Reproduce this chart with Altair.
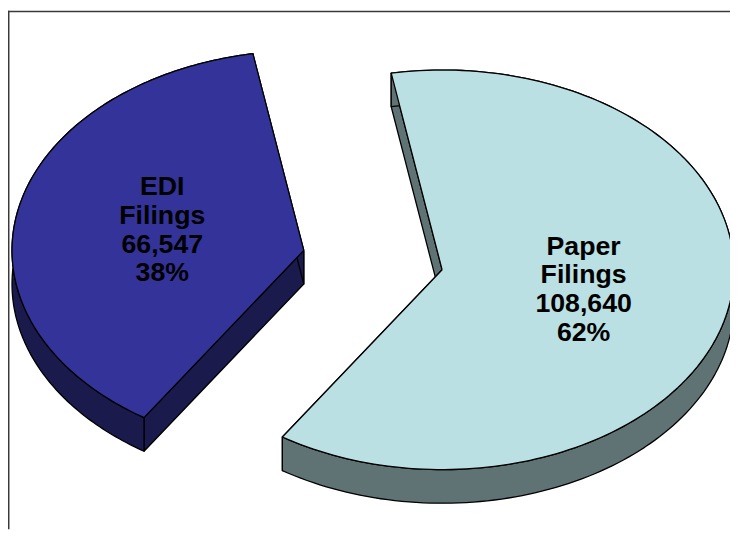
import numpy as np
import pandas as pd
import altair as alt

# ---- data ----
categories = ["EDI", "Paper"]
series_names = ["EDI\nFilings", "Paper\nFilings"]
values = [66547, 108640]

# ---- style ----
top_colors = ["#333399", "#bbe0e3"]
side_colors = ["#1a1a4d", "#5f7374"]
W, H = 730, 524            # plot area (page origin at 8,8)
CX, CY = 377, 260          # pie centre in page pixels
RX, RY = 295, 202          # ellipse radii
DEPTH = 34                 # 3-D thickness
EXPLODE = 0.242            # explosion as fraction of radius
START_ANGLE = 213.2        # first slice start, degrees clockwise from 12 o'clock
LABEL_R = 0.495
FONT_SIZE = 27
LINE_H = 29

total = float(sum(values))
rows = []
labels = []
pid = 0
angle = START_ANGLE
for i, (cat, name, v) in enumerate(zip(categories, series_names, values)):
    span = v / total * 360.0
    t0, t1 = angle, angle + span
    mid = np.radians((t0 + t1) / 2.0)
    cx = CX + EXPLODE * RX * np.sin(mid)
    cy = CY - EXPLODE * RY * np.cos(mid)

    def pt(theta_deg, dy=0.0, r=1.0):
        th = np.radians(theta_deg)
        return (cx + r * RX * np.sin(th), cy - r * RY * np.cos(th) + dy)

    arc = np.linspace(t0, t1, 160)
    apex = (cx, cy)
    apexd = (cx, cy + DEPTH)

    polys_side = []
    for t in (t0, t1):
        polys_side.append([apex, pt(t), pt(t, DEPTH), apexd, apex])
    band = [pt(t) for t in arc] + [pt(t, DEPTH) for t in arc[::-1]]
    band.append(band[0])
    polys_side.append(band)
    for poly in polys_side:
        for k, (x, y) in enumerate(poly):
            rows.append({"poly": pid, "layer": "side", "part": cat + " side", "k": k, "x": x, "y": y})
        pid += 1
    top = [apex] + [pt(t) for t in arc] + [apex]
    for k, (x, y) in enumerate(top):
        rows.append({"poly": pid, "layer": "top", "part": cat + " top", "k": k, "x": x, "y": y})
    pid += 1

    lx, ly = pt(np.degrees(mid), 0, LABEL_R)
    pct = round(v / total * 100)
    labels.append({"text": f"{name}\n{v:,}\n{pct}%", "x": lx, "y": ly})
    angle = t1

df = pd.DataFrame(rows)
lab = pd.DataFrame(labels)

xs = alt.Scale(domain=[8, 8 + W], zero=False, nice=False)
ys = alt.Scale(domain=[8, 8 + H], reverse=True, zero=False, nice=False)
fill_scale = alt.Scale(
    domain=[c + " top" for c in categories] + [c + " side" for c in categories],
    range=top_colors + side_colors,
)

def poly_layer(which):
    return (
        alt.Chart(df)
        .transform_filter(alt.datum.layer == which)
        .mark_line(stroke="black", strokeWidth=1.3, strokeJoin="round")
        .encode(
            x=alt.X("x:Q", scale=xs, axis=None),
            y=alt.Y("y:Q", scale=ys, axis=None),
            detail="poly:N",
            order=alt.Order("k:Q"),
            fill=alt.Fill("part:N", scale=fill_scale, legend=None),
        )
    )

text = (
    alt.Chart(lab)
    .mark_text(
        font="Liberation Sans", fontWeight="bold", fontSize=FONT_SIZE,
        lineBreak="\n", lineHeight=LINE_H, align="center", baseline="middle",
        color="black", dy=-1.5 * LINE_H,
    )
    .encode(x=alt.X("x:Q", scale=xs, axis=None), y=alt.Y("y:Q", scale=ys, axis=None), text="text:N")
)

one = pd.DataFrame({"a": [0]})
top_rule = alt.Chart(one).mark_rule(color="#3a3a3a", strokeWidth=1.5).encode(
    x=alt.value(0), x2=alt.value(W), y=alt.value(0.75))
left_rule = alt.Chart(one).mark_rule(color="#3a3a3a", strokeWidth=1.5).encode(
    x=alt.value(0.75), y=alt.value(0), y2=alt.value(H))

chart = (
    alt.layer(poly_layer("side"), poly_layer("top"), text, top_rule, left_rule)
    .properties(width=W, height=H, padding=0, autosize=alt.AutoSizeParams(type="none"))
    .configure_view(stroke=None)
)

chart.save("out.html", embed_options={"renderer": "svg", "actions": False})
